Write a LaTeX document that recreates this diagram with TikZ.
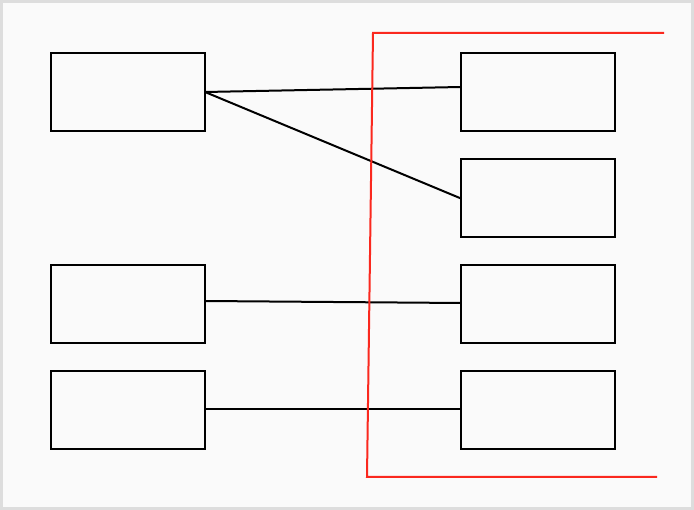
\documentclass[tikz,border=0pt]{standalone}
\usetikzlibrary{positioning}
\definecolor{bgc}{HTML}{FAFAFA}
\definecolor{frc}{HTML}{DDDDDD}
\definecolor{redc}{RGB}{250,40,30}
\begin{document}
\begin{tikzpicture}[x=1pt,y=-1pt,
  boxn/.style={draw=black,line width=2pt,minimum width=154pt,minimum height=78pt,inner sep=0pt,outer sep=0pt,anchor=north west},
  conn/.style={draw=black,line width=2pt},
  redl/.style={draw=redc,line width=2pt}]
\fill[frc] (0,0) rectangle (694,510);
\fill[bgc] (3,3) rectangle (691,507);
\useasboundingbox (0,0) rectangle (694,510);
\node[boxn] (l1) at (51,53) {};
\node[boxn] (l2) at (51,265) {};
\node[boxn] (l3) at (51,371) {};
\node[boxn] (r1) at (461,53) {};
\node[boxn] (r2) at (461,159) {};
\node[boxn] (r3) at (461,265) {};
\node[boxn] (r4) at (461,371) {};
\draw[conn] (l1.east) -- ([yshift=5pt]r1.west);
\draw[conn] (l1.east) -- ([yshift=-0.5pt]r2.west);
\draw[conn] ([yshift=3pt]l2.east) -- ([yshift=1pt]r3.west);
\draw[conn] ([yshift=1pt]l3.east) -- ([yshift=1pt]r4.west);
\coordinate (ra) at (664,33);
\coordinate (rb) at (373,33);
\coordinate (rc) at (367,477);
\coordinate (rd) at (657,477);
\draw[redl] (ra) -- (rb) -- (rc) -- (rd);
\end{tikzpicture}
\end{document}
